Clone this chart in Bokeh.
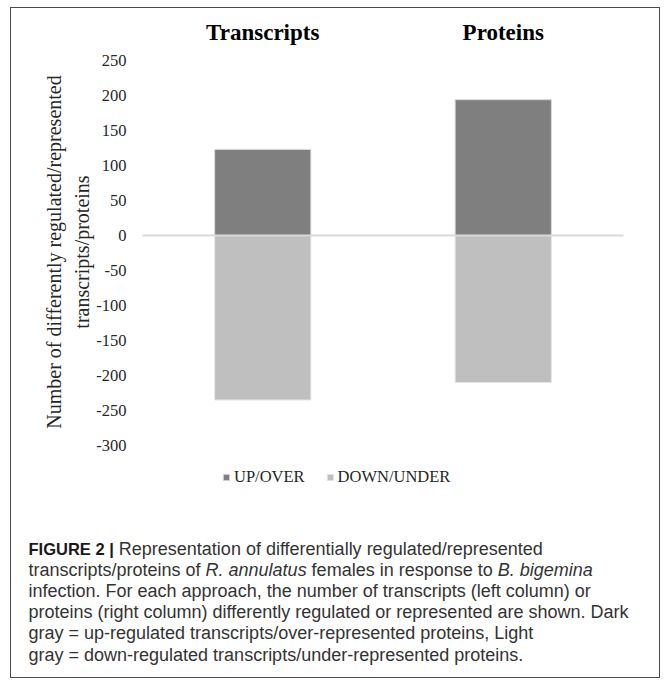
from bokeh.plotting import figure
from bokeh.models import (Range1d, Legend, LegendItem, Label, FixedTicker,
                          CustomJSTickFormatter)
from bokeh.embed import file_html
from bokeh.resources import INLINE

# ---------------- data ----------------
categories = ["Transcripts", "Proteins"]
up_over = [123, 194]          # UP/OVER (dark gray)
down_under = [-235, -210]     # DOWN/UNDER (light gray)
series_names = ["UP/OVER", "DOWN/UNDER"]
y_ticks = [-300, -250, -200, -150, -100, -50, 0, 50, 100, 150, 200, 250]
y_title = "Number of differently regulated/represented\ntranscripts/proteins"

caption_lines = [
    [("FIGURE 2 |", "bold"), (" Representation of differentially regulated/represented", "normal")],
    [("transcripts/proteins of ", "normal"), ("R. annulatus", "italic"),
     (" females in response to ", "normal"), ("B. bigemina", "italic")],
    [("infection. For each approach, the number of transcripts (left column) or", "normal")],
    [("proteins (right column) differently regulated or represented are shown. Dark", "normal")],
    [("gray = up-regulated transcripts/over-represented proteins, Light", "normal")],
    [("gray = down-regulated transcripts/under-represented proteins.", "normal")],
]

# ---------------- layout / styles ----------------
UP_COLOR = "#7f7f7f"
DOWN_COLOR = "#bfbfbf"
TXT = "#262626"
SERIF = "Liberation Serif"
SANS = "Liberation Sans"

W, H = 650, 671
PX_PER_CAT = 240.5      # pixels per category slot
PX_PER_UNIT = 0.7       # pixels per y unit
X0_PX = 251.25          # pixel position of first category centre
ZERO_PX = 227           # pixel position (from top) of y = 0

x_pos = list(range(len(categories)))
x_start = -X0_PX / PX_PER_CAT
x_end = x_start + W / PX_PER_CAT
y_end = ZERO_PX / PX_PER_UNIT
y_start = -(H - ZERO_PX) / PX_PER_UNIT
plot_top = 262.857       # top of the value area (category titles sit above it)
plot_bottom = -310

p = figure(x_range=Range1d(x_start, x_end), y_range=Range1d(y_start, y_end),
           width=W, height=H, output_backend="svg", toolbar_location=None,
           x_axis_location="above",
           min_border_left=0, min_border_right=0, min_border_top=0, min_border_bottom=0)
p.styles = {"border": "1px solid #4a4a4a", "margin-left": "10px", "margin-top": "7px"}
p.outline_line_color = None
p.xgrid.visible = False
p.ygrid.visible = False
p.background_fill_color = "white"
p.border_fill_color = "white"

r_up = p.vbar(x=x_pos, top=up_over, bottom=0, width=0.4,
              fill_color=UP_COLOR, line_color="#d9d9d9", line_width=1)
r_dn = p.vbar(x=x_pos, top=0, bottom=down_under, width=0.4,
              fill_color=DOWN_COLOR, line_color="#e6e6e6", line_width=1)

# horizontal zero axis line across the category area
p.segment(x0=[x_pos[0] - 0.5], x1=[x_pos[-1] + 0.5], y0=[0], y1=[0],
          line_color="#d9d9d9", line_width=2)

# y axis (drawn inside the canvas at the left edge of the category area)
ya = p.yaxis[0]
ya.fixed_location = x_pos[0] - 0.5
ya.bounds = (plot_bottom, plot_top)
ya.ticker = FixedTicker(ticks=y_ticks)
ya.formatter = CustomJSTickFormatter(code="return String(tick);")
ya.axis_line_color = None
ya.major_tick_line_color = None
ya.minor_tick_line_color = None
ya.major_label_standoff = 10
ya.major_label_text_font = SERIF
ya.major_label_text_font_size = "16.5px"
ya.major_label_text_color = TXT
ya.axis_label = y_title
ya.axis_label_text_font = SERIF
ya.axis_label_text_font_size = "20px"
ya.axis_label_text_font_style = "normal"
ya.axis_label_text_color = TXT
ya.axis_label_text_line_height = 1.3
ya.axis_label_standoff = 0

# category titles (axis above, fixed at the top of the value area)
xa = p.xaxis[0]
xa.fixed_location = plot_top
xa.ticker = FixedTicker(ticks=x_pos)
xa.formatter = CustomJSTickFormatter(args=dict(cats=categories),
                                     code="const i = Math.round(tick); return cats[i] || '';")
xa.axis_line_color = None
xa.major_tick_line_color = None
xa.minor_tick_line_color = None
xa.major_label_standoff = 1
xa.major_label_text_font = SERIF
xa.major_label_text_font_size = "23px"
xa.major_label_text_font_style = "bold"
xa.major_label_text_color = "black"

# legend
legend = Legend(items=[LegendItem(label=series_names[0], renderers=[r_up]),
                       LegendItem(label=series_names[1], renderers=[r_dn])],
                orientation="horizontal", location=(211, 192),
                glyph_width=8, glyph_height=8, label_standoff=4, spacing=21,
                padding=0, margin=0, border_line_color=None, background_fill_alpha=0,
                label_text_font=SERIF, label_text_font_size="16.5px",
                label_text_color=TXT, label_height=20)
p.add_layout(legend, "center")

# ---------------- caption ----------------
REG = {' ': 278, '!': 278, '"': 355, '#': 556, '$': 556, '%': 889, '&': 667, "'": 191,
       '(': 333, ')': 333, '*': 389, '+': 584, ',': 278, '-': 333, '.': 278, '/': 278,
       ':': 278, ';': 278, '<': 584, '=': 584, '>': 584, '?': 556, '|': 260,
       'A': 667, 'B': 667, 'C': 722, 'D': 722, 'E': 667, 'F': 611, 'G': 778, 'H': 722,
       'I': 278, 'J': 500, 'K': 667, 'L': 556, 'M': 833, 'N': 722, 'O': 778, 'P': 667,
       'Q': 778, 'R': 722, 'S': 667, 'T': 611, 'U': 722, 'V': 667, 'W': 944, 'X': 667,
       'Y': 667, 'Z': 611,
       'a': 556, 'b': 556, 'c': 500, 'd': 556, 'e': 556, 'f': 278, 'g': 556, 'h': 556,
       'i': 222, 'j': 222, 'k': 500, 'l': 222, 'm': 833, 'n': 556, 'o': 556, 'p': 556,
       'q': 556, 'r': 333, 's': 500, 't': 278, 'u': 556, 'v': 500, 'w': 722, 'x': 500,
       'y': 500, 'z': 500}
for d in "0123456789":
    REG[d] = 556
BOLD = dict(REG)
BOLD.update({'F': 611, 'I': 278, 'G': 778, 'U': 722, 'R': 722, 'E': 667, '|': 280, ' ': 278})


def tw(s, size, style):
    table = BOLD if style == "bold" else REG
    return sum(table.get(c, 556) for c in s) * size / 1000.0


CAP_SIZE = 18
BOLD_SIZE = 16.5
cap_x0 = 17
cap_y0 = H - 540         # baseline of first line (y measured upward from bottom)
cap_dy = 21.2
for i, segs in enumerate(caption_lines):
    x = cap_x0
    y = cap_y0 - i * cap_dy
    for text, style in segs:
        size = BOLD_SIZE if style == "bold" else CAP_SIZE
        lead = len(text) - len(text.lstrip(" "))
        x += lead * REG[' '] * size / 1000.0
        core = text.strip(" ")
        p.add_layout(Label(x=x, y=y, x_units="screen", y_units="screen", text=core,
                           text_font=SANS, text_font_size=f"{size}px",
                           text_font_style=style,
                           text_color="#1a1a1a" if style == "bold" else "#333333",
                           text_align="left", text_baseline="alphabetic"))
        x += tw(core, size, style)
        trail = len(text) - len(text.rstrip(" "))
        x += trail * REG[' '] * size / 1000.0

open("out.html", "w").write(file_html(p, INLINE))
